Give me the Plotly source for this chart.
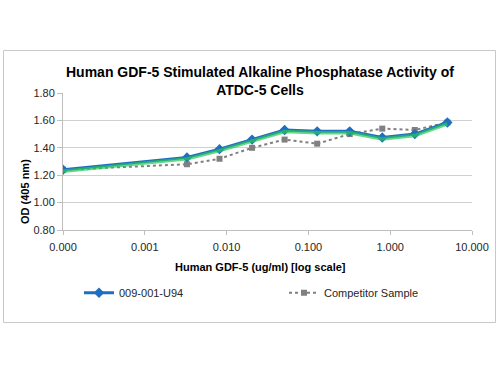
import plotly.graph_objects as go

# Data
conc = [0.0001, 0.0032768, 0.008192, 0.02048, 0.0512, 0.128, 0.32, 0.8, 2.0, 5.0]
od_009 = [1.24, 1.33, 1.39, 1.46, 1.53, 1.52, 1.52, 1.475, 1.50, 1.585]
od_comp = [1.24, 1.28, 1.32, 1.40, 1.46, 1.43, 1.50, 1.54, 1.53, 1.585]
xtick_vals = [0.0001, 0.001, 0.01, 0.1, 1, 10]
xtick_text = ["0.000", "0.001", "0.010", "0.100", "1.000", "10.000"]

W, H = 500, 375
L, R, T, B = 63, 28, 93, 145
pw, ph = W - L - R, H - T - B

def px_x(x):
    return (x - L) / pw

def px_y(y):
    return (H - B - y) / ph

FONT = "Liberation Sans, Arial, sans-serif"
TXT = "#262626"
shift = 1.5 / ph  # glow shift in data units (range 1.0)

fig = go.Figure()
# glow under blue line
fig.add_trace(go.Scatter(
    x=conc, y=od_009, mode="lines", yaxis="y2",
    line=dict(color="rgba(40,200,90,0.7)", width=3.5),
    showlegend=False, hoverinfo="skip"))
fig.add_trace(go.Scatter(
    x=conc, y=od_comp, mode="lines+markers", name="Competitor Sample",
    line=dict(color="#808080", width=2, dash="dot"),
    marker=dict(symbol="square", size=6, color="#808080")))
fig.add_trace(go.Scatter(
    x=conc, y=od_009, mode="lines+markers", name="009-001-U94",
    line=dict(color="#1f6fc0", width=3),
    marker=dict(symbol="diamond", size=8, color="#1f6fc0")))

fig.update_layout(
    width=W, height=H,
    margin=dict(l=L, r=R, t=T, b=B, autoexpand=False),
    paper_bgcolor="white", plot_bgcolor="white",
    font=dict(family=FONT, size=11, color=TXT),
    xaxis=dict(type="log", range=[-4, 1], tickvals=xtick_vals, ticktext=xtick_text,
               showgrid=False, showline=True, linecolor="#bfbfbf", linewidth=1,
               ticks="outside", ticklen=4, tickcolor="#bfbfbf", ticklabelstandoff=3,
               tickfont=dict(size=11, color=TXT), zeroline=False, automargin=False),
    yaxis=dict(range=[0.8, 1.8], dtick=0.2, tickformat=".2f",
               showgrid=True, gridcolor="#d0d0d0", gridwidth=1,
               showline=True, linecolor="#bfbfbf", linewidth=1,
               ticks="outside", ticklen=5, tickcolor="#bfbfbf",
               tickfont=dict(size=11, color=TXT), zeroline=False, automargin=False),
    yaxis2=dict(range=[0.8 + shift, 1.8 + shift], overlaying="y", visible=False),
    legend=dict(orientation="h", x=px_x(79), xanchor="left",
                y=px_y(292.7), yanchor="middle",
                traceorder="reversed",
                entrywidth=160, entrywidthmode="pixels",
                font=dict(size=11, color=TXT), bgcolor="rgba(0,0,0,0)",
                itemwidth=30),
    showlegend=True,
)

fig.add_annotation(x=px_x(260), y=px_y(81), xref="paper", yref="paper",
                   text="<b>Human GDF-5 Stimulated Alkaline Phosphatase Activity of<br>ATDC-5 Cells</b>",
                   showarrow=False, font=dict(size=14, color="black", family=FONT),
                   xanchor="center", yanchor="middle")
fig.add_annotation(x=px_x(260), y=px_y(266.7), xref="paper", yref="paper",
                   text="<b>Human GDF-5 (ug/ml) [log scale]</b>", showarrow=False,
                   font=dict(size=11, color="black", family=FONT),
                   xanchor="center", yanchor="middle")
fig.add_annotation(x=px_x(25), y=px_y(192), xref="paper", yref="paper",
                   text="<b>OD (405 nm)</b>", showarrow=False, textangle=-90,
                   font=dict(size=11, color="black", family=FONT),
                   xanchor="center", yanchor="middle")

fig.add_shape(type="rect", xref="paper", yref="paper",
              x0=px_x(3.5), x1=px_x(495.5), y0=px_y(322.5), y1=px_y(50.5),
              line=dict(color="#c8c8c8", width=1), fillcolor="rgba(0,0,0,0)", layer="below")

fig.write_html("out.html", config={"displayModeBar": False},
               post_script="document.body.style.margin='0';document.body.style.overflow='hidden';")
